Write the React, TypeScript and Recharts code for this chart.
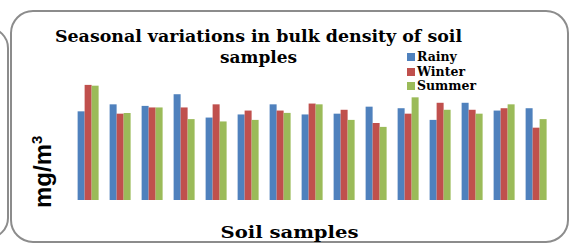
import { BarChart, Bar, XAxis, YAxis } from "recharts";

const samples = ["S1", "S2", "S3", "S4", "S5", "S6", "S7", "S8", "S9", "S10", "S11", "S12", "S13", "S14", "S15"];
const rainy = [1.14, 1.23, 1.21, 1.36, 1.06, 1.10, 1.23, 1.10, 1.11, 1.20, 1.18, 1.03, 1.25, 1.15, 1.18];
const winter = [1.48, 1.11, 1.19, 1.19, 1.23, 1.15, 1.15, 1.24, 1.16, 0.99, 1.11, 1.25, 1.16, 1.18, 0.93];
const summer = [1.47, 1.12, 1.19, 1.04, 1.01, 1.03, 1.12, 1.23, 1.03, 0.94, 1.32, 1.16, 1.11, 1.23, 1.04];

const series = [
  { key: "Rainy", color: "#4f81bd" },
  { key: "Winter", color: "#c0504d" },
  { key: "Summer", color: "#9bbb59" },
];

const data = samples.map((s, i) => ({ sample: s, Rainy: rainy[i], Winter: winter[i], Summer: summer[i] }));

const serif = '"DejaVu Serif", serif';

export default function App() {
  return (
    <div style={{ position: "fixed", left: 0, top: 0, width: 571, height: 244, background: "#fff", overflow: "hidden" }}>
      <svg width={571} height={244} style={{ position: "absolute", left: 0, top: 0 }}>
        <rect x={-200} y={28} width={208} height={210} rx={20} fill="none" stroke="#8c8c8c" strokeWidth={2} />
        <rect x={11} y={11} width={557} height={231} rx={22} fill="none" stroke="#8c8c8c" strokeWidth={2} />
      </svg>
      <div style={{ position: "absolute", left: 0, top: 0 }}>
        <BarChart
          width={571}
          height={244}
          data={data}
          margin={{ top: 60, right: 18.5, bottom: 44, left: 72.5 }}
          barCategoryGap="16%"
          barGap={0}
        >
          <XAxis dataKey="sample" hide />
          <YAxis hide domain={[0, 1.8]} />
          {series.map((s) => (
            <Bar key={s.key} dataKey={s.key} fill={s.color} isAnimationActive={false} />
          ))}
        </BarChart>
      </div>
      {/* legend */}
      <div style={{ position: "absolute", left: 407, top: 50 }}>
        {series.map((s) => (
          <div key={s.key} style={{ display: "flex", alignItems: "center", height: 14.5 }}>
            <span style={{ width: 8, height: 8, background: s.color, marginRight: 2 }} />
            <span style={{ fontFamily: serif, fontWeight: 700, fontSize: 12.5, color: "#000", lineHeight: "14px" }}>{s.key}</span>
          </div>
        ))}
      </div>
      <svg width={571} height={244} style={{ position: "absolute", left: 0, top: 0, pointerEvents: "none" }}>
        <text x={258.5} y={41.5} textAnchor="middle" fontFamily={serif} fontWeight={700} fontSize={17.5}
          textLength={407} lengthAdjust="spacingAndGlyphs">
          Seasonal variations in bulk density of soil
        </text>
        <text x={258.5} y={63} textAnchor="middle" fontFamily={serif} fontWeight={700} fontSize={17.5}
          textLength={77} lengthAdjust="spacingAndGlyphs">
          samples
        </text>
        <text x={289.5} y={237.5} textAnchor="middle" fontFamily={serif} fontWeight={700} fontSize={17.5}
          textLength={138} lengthAdjust="spacingAndGlyphs">
          Soil samples
        </text>
        <text transform="translate(51,208) rotate(-90)" fontFamily='"Liberation Sans", Arial, sans-serif'
          fontWeight={700} fontSize={24}>
          mg/m<tspan fontSize={15} dy={-9}>3</tspan>
        </text>
      </svg>
    </div>
  );
}
